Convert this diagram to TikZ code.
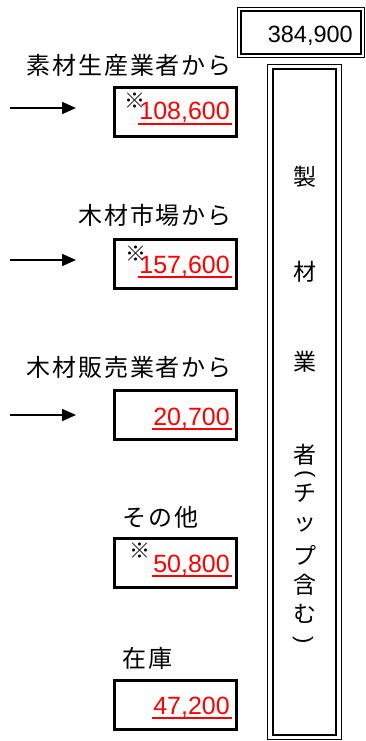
\documentclass[tikz,border=0pt]{standalone}
\usepackage{fontspec}
\setmainfont{Liberation Sans}
\newfontfamily\jp{Noto Sans CJK JP}
\newfontfamily\jpl[LetterSpace=8]{Noto Sans CJK JP}
\usetikzlibrary{arrows.meta}
\begin{document}
\begin{tikzpicture}[x=1pt,y=-1pt,
  lbox/.style={draw, line width=3pt, minimum width=122pt, minimum height=49pt, inner sep=0pt},
  num/.style={text=red, font=\fontsize{25}{25}\selectfont, inner sep=0pt, anchor=base east},
  kome/.style={font=\jp\fontsize{21}{21}\selectfont, inner sep=0pt},
  lab/.style={font=\jpl\fontsize{24}{24}\selectfont, inner sep=0pt},
  vch/.style={font=\jp\fontsize{23}{23}\selectfont, inner sep=0pt},
  vpar/.style={font=\fontsize{22}{22}\selectfont, inner sep=0pt},
  arr/.style={line width=1.7pt, -{Triangle[length=14pt,width=12pt]}},
  ul/.style={red, line width=1.8pt},
  outerln/.style={draw, line width=1.2pt, inner sep=0pt},
  innerln/.style={draw, line width=1.6pt, inner sep=0pt}]
\useasboundingbox (0,0) rectangle (366,741);
\fill[white] (0,0) rectangle (366,741);

% total box
\node[outerln, minimum width=127pt, minimum height=50pt] (tot) at (301,32.5) {};
\node[innerln, minimum width=120pt, minimum height=43pt] (toti) at (tot.center) {};
\node[anchor=base east, font=\fontsize{23.5}{24}\selectfont, inner sep=0pt] (totn) at (353,43) {384,900};

% tall box
\node[outerln, minimum width=74pt, minimum height=675pt] (mill) at (304.5,402) {};
\node[innerln, minimum width=63pt, minimum height=666pt] (milli) at (mill.center) {};
\node[vch] (v1) at (305,177) {製};
\node[vch] (v2) at (305,272) {材};
\node[vch] (v3) at (305,362) {業};
\node[vch] (v4) at (305,455) {者};
\node[vpar] (v5) at (305,474) {\rotatebox{-90}{(}};
\node[vch] (v6) at (305,493) {チ};
\node[vch] (v7) at (305,525) {ッ};
\node[vch] (v8) at (305,555) {プ};
\node[vch] (v9) at (305,585) {含};
\node[vch] (v10) at (305,614) {む};
\node[vpar] (v11) at (303,640) {\rotatebox{-90}{)}};

% labels
\node[lab, anchor=east] (l1) at (232,65) {素材生産業者から};
\node[lab, anchor=east] (l2) at (232,215) {木材市場から};
\node[lab, anchor=east] (l3) at (232,367) {木材販売業者から};
\node[lab, anchor=west] (l4) at (122,517) {その他};
\node[lab, anchor=west] (l5) at (122,658) {在庫};

% boxes
\node[lbox] (b1) at (175.5,112) {};
\node[lbox] (b2) at (175.5,263.5) {};
\node[lbox] (b3) at (175.5,415) {};
\node[lbox] (b4) at (175.5,562.5) {};
\node[lbox] (b5) at (175.5,705) {};

% numbers
\node[num] (n1) at (230,120) {108,600};
\node[num] (n2) at (230,273) {157,600};
\node[num] (n3) at (230,425) {20,700};
\node[num] (n4) at (230,572) {50,800};
\node[num] (n5) at (230,714) {47,200};
\foreach \n in {n1,n2,n3,n4,n5}
  \draw[ul] ([xshift=-1pt,yshift=-4pt]\n.base west) -- ([xshift=2pt,yshift=-4pt]\n.base east);
\node[kome] (k1) at (135,101) {※};
\node[kome] (k2) at (136,254) {※};
\node[kome] (k4) at (139.5,551) {※};

% arrows
\coordinate (a1s) at (10,108); \coordinate (a1e) at (76,108);
\coordinate (a2s) at (10,260); \coordinate (a2e) at (76,260);
\coordinate (a3s) at (10,415); \coordinate (a3e) at (76,415);
\draw[arr] (a1s) -- (a1e);
\draw[arr] (a2s) -- (a2e);
\draw[arr] (a3s) -- (a3e);
\end{tikzpicture}
\end{document}
